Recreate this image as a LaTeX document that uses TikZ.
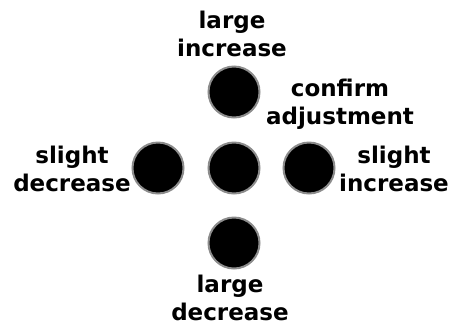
\documentclass[tikz,border=0pt]{standalone}
\usepackage{fontspec}
\setmainfont{DejaVu Sans}
\begin{document}
\begin{tikzpicture}[x=1pt,y=-1pt,
  dot/.style={circle,fill=black,draw=black!45,line width=2pt,minimum size=51pt,inner sep=0pt},
  lbl/.style={font=\bfseries\fontsize{23}{28}\selectfont,align=center,inner sep=0pt,anchor=base}]
\useasboundingbox (0,0) rectangle (455,325);
\node[dot] (up) at (234,92) {};
\node[dot] (mid) at (234,168) {};
\node[dot] (left) at (158,168) {};
\node[dot] (right) at (309,168) {};
\node[dot] (down) at (234,243) {};
\node[lbl] (tup) at (232,56) {large\\increase};
\node[lbl] (tconf) at (340,124) {confirm\\adjustment};
\node[lbl] (tleft) at (72,191) {slight\\decrease};
\node[lbl] (tright) at (394,191) {slight\\increase};
\node[lbl] (tdown) at (230,320.5) {large\\decrease};
\end{tikzpicture}
\end{document}
